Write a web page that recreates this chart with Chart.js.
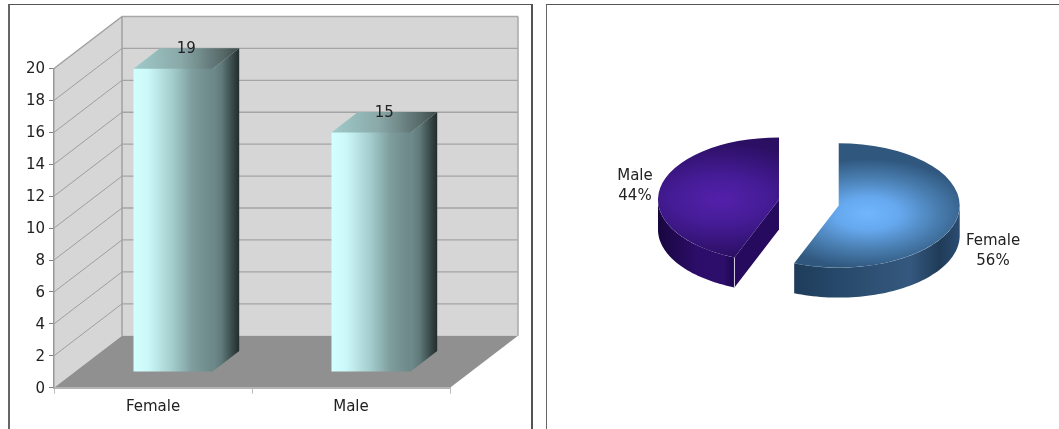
<!DOCTYPE html>
<html>
<head>
<meta charset="utf-8">
<title>Gender</title>
<script src="https://cdn.jsdelivr.net/npm/chart.js@4"></script>
<style>
  html, body { margin: 0; padding: 0; background: #fff; width: 1059px; height: 429px; overflow: hidden; }
  .panel { position: absolute; top: 4px; height: 440px; box-sizing: border-box; border-top: 1px solid #555; }
  #panel-left { left: 8px; width: 525px; border-left: 2px solid #666; border-right: 2px solid #555; }
  #panel-right { left: 546px; width: 520px; border-left: 1px solid #666; }
  canvas { position: absolute; top: 0; }
  #bar-chart { left: 0; }
  #pie-chart { left: 540px; }
</style>
</head>
<body>
<div class="panel" id="panel-left"></div>
<div class="panel" id="panel-right"></div>
<canvas id="bar-chart" width="540" height="429" style="width:540px;height:429px"></canvas>
<canvas id="pie-chart" width="519" height="429" style="width:519px;height:429px"></canvas>
<script>
// ── Data ─────────────────────────────────────────────────────────
const categories = ['Female', 'Male'];
const barValues = [19, 15];
const pieShares = [56, 44];

Chart.defaults.font.family = '"DejaVu Sans", Verdana, sans-serif';
Chart.defaults.font.size = 15;
Chart.defaults.color = '#222';
Chart.defaults.animation = false;

const FONT = Chart.defaults.font.size + 'px ' + Chart.defaults.font.family;
const linear = (ctx, x0, y0, x1, y1, stops) => {
  const g = ctx.createLinearGradient(x0, y0, x1, y1);
  stops.forEach(([p, c]) => g.addColorStop(p, c));
  return g;
};
const poly = (ctx, pts, fill) => {
  ctx.beginPath();
  pts.forEach(([x, y], i) => i ? ctx.lineTo(x, y) : ctx.moveTo(x, y));
  ctx.closePath();
  ctx.fillStyle = fill;
  ctx.fill();
};
const line = (ctx, x0, y0, x1, y1, color, w) => {
  ctx.beginPath();
  ctx.moveTo(x0, y0);
  ctx.lineTo(x1, y1);
  ctx.strokeStyle = color;
  ctx.lineWidth = w;
  ctx.stroke();
};
const text = (ctx, str, x, y, align) => {
  ctx.textAlign = align || 'center';
  ctx.textBaseline = 'middle';
  ctx.fillStyle = '#222';
  ctx.font = FONT;
  ctx.fillText(str, x, y);
};

// ── 3D bars ──────────────────────────────────────────────────────
const wall = { x: 68, y: 52 };     // depth of the box
const shift = { x: 20.1, y: 15.7 }; // how far back the bars stand
const barDepth = { x: 26.5, y: 20.5 };

const box3d = {
  id: 'box3d',
  beforeDraw(chart) {
    const { ctx, chartArea: a, scales: { y } } = chart;
    ctx.save();
    const dx = wall.x, dy = wall.y;
    poly(ctx, [[a.left, a.top], [a.left + dx, a.top - dy], [a.left + dx, a.bottom - dy], [a.left, a.bottom]], '#d6d6d6');
    poly(ctx, [[a.left + dx, a.top - dy], [a.right + dx, a.top - dy], [a.right + dx, a.bottom - dy], [a.left + dx, a.bottom - dy]], '#d6d6d6');
    poly(ctx, [[a.left, a.bottom], [a.left + dx, a.bottom - dy], [a.right + dx, a.bottom - dy], [a.right, a.bottom]], '#909090');
    y.ticks.forEach(t => {
      const py = y.getPixelForValue(t.value);
      if (t.value > 0 && t.value < 20) {
        line(ctx, a.left, py, a.left + dx, py - dy, '#8f8f8f', 0.8);
        line(ctx, a.left + dx, py - dy, a.right + dx, py - dy, '#a4a4a4', 1.3);
      }
      // tick labels sit a touch lower than the library's middle baseline
      text(ctx, t.label, a.left - 9, py + 1, 'right');
    });
    line(ctx, a.left, a.top, a.left + dx, a.top - dy, '#a0a0a0', 1.5);
    line(ctx, a.left + dx, a.top - dy, a.right + dx, a.top - dy, '#a8a8a8', 1.5);
    line(ctx, a.left + dx, a.top - dy, a.left + dx, a.bottom - dy, '#a0a0a0', 1.5);
    line(ctx, a.right + dx, a.top - dy, a.right + dx, a.bottom - dy, '#a8a8a8', 1.5);
    ctx.restore();
  },
  beforeDatasetsDraw(chart) {
    const { ctx } = chart;
    ctx.save();
    ctx.translate(shift.x, -shift.y);
    chart.getDatasetMeta(0).data.forEach(bar => {
      const l = bar.x - bar.width / 2, r = bar.x + bar.width / 2;
      const d = barDepth;
      // faces start 1px under the front so no floor shows through the seam
      poly(ctx, [[r - 1, bar.y], [r, bar.y], [r + d.x, bar.y - d.y], [r + d.x, bar.base - d.y], [r, bar.base], [r - 1, bar.base]],
        linear(ctx, r, 0, r + d.x, 0, [[0, '#6f8c8c'], [0.35, '#5f7878'], [0.75, '#384848'], [1, '#222c2c']]));
      poly(ctx, [[l, bar.y + 1], [l, bar.y], [l + d.x, bar.y - d.y], [r + d.x, bar.y - d.y], [r, bar.y], [r, bar.y + 1]],
        linear(ctx, l, 0, r + d.x, 0, [[0, '#a0caca'], [0.45, '#8aa8a8'], [0.85, '#566868'], [1, '#3c4a4a']]));
      bar.options = Object.assign({}, bar.options, {
        backgroundColor: linear(ctx, l, 0, r, 0, [[0, '#d2ffff'], [0.18, '#cdf8f9'], [0.5, '#a2cbcb'], [0.75, '#7d9c9c'], [1, '#6c8888']])
      });
    });
  },
  afterDatasetsDraw(chart) {
    const { ctx } = chart;
    ctx.restore();
    ctx.save();
    chart.getDatasetMeta(0).data.forEach((bar, i) => {
      text(ctx, barValues[i], bar.x + shift.x + barDepth.x / 2, bar.y - shift.y - barDepth.y + 1);
    });
    ctx.restore();
  }
};

new Chart(document.getElementById('bar-chart'), {
  type: 'bar',
  data: {
    labels: categories,
    datasets: [{ data: barValues, barPercentage: 0.8, categoryPercentage: 0.5, borderWidth: 0, clip: false }]
  },
  options: {
    responsive: false,
    layout: { padding: { top: 68.5, right: 90, left: 0, bottom: 0 } },
    plugins: { legend: { display: false }, tooltip: { enabled: false } },
    scales: {
      x: {
        afterFit: s => { s.height = 41.3; },
        grid: { drawOnChartArea: false, tickLength: 6, tickColor: '#bdbdbd' },
        border: { color: '#b4b4b4', width: 2 },
        ticks: { padding: 4, color: '#222' }
      },
      y: {
        min: 0,
        max: 20,
        afterFit: s => { s.width = 54; },
        grid: { drawOnChartArea: false, tickLength: 5, tickColor: '#808080' },
        border: { color: '#999', width: 1.5 },
        ticks: { stepSize: 2, padding: 4, color: 'rgba(0,0,0,0)' }
      }
    }
  },
  plugins: [box3d]
});

// ── 3D pie ───────────────────────────────────────────────────────
const tilt = 0.514;
const pieDepth = 30;
const explode = 30.4;
const TOP = [
  { dx: 29, dy: 16, r: 106, stops: [[0, '#70b7ff'], [0.3, '#66a8ee'], [0.65, '#4a7fb2'], [1, '#30587f']] },
  { dx: -59, dy: 0, r: 112, stops: [[0, '#5320aa'], [0.4, '#461c98'], [1, '#2b0f63']] }
];
const SIDE = [
  [[0, '#1f3c5a'], [0.25, '#264869'], [0.7, '#35587e'], [0.88, '#1f3b58'], [1, '#2b4d72']],
  [[0, '#18063f'], [0.5, '#2c0d68'], [0.85, '#2e0e6c'], [1, '#1b0650']]
];
const LABELS = [{ x: 453, y: 241 }, { x: 95, y: 176 }];

const pie3d = {
  id: 'pie3d',
  beforeDatasetsDraw(chart) {
    const { ctx } = chart;
    chart.getDatasetMeta(0).data.forEach((arc, i) => {
      const r = arc.outerRadius;
      const mid = (arc.startAngle + arc.endAngle) / 2;
      const ex = Math.cos(mid) * explode, ey = Math.sin(mid) * explode * tilt;
      const pt = t => [arc.x + ex + r * Math.cos(t), arc.y + ey + r * Math.sin(t) * tilt];
      const from = Math.max(arc.startAngle, 0), to = Math.min(arc.endAngle, Math.PI);
      const pts = [];
      for (let k = 0; k <= 60; k++) pts.push(pt(from + (to - from) * k / 60));
      const wallPts = pts.concat(pts.slice().reverse().map(([x, y]) => [x, y + pieDepth]));
      poly(ctx, wallPts, linear(ctx, Math.min(pts[0][0], pts[60][0]), 0, Math.max(pts[0][0], pts[60][0]), 0, SIDE[i]));
      // cut face that looks toward the viewer
      const s = arc.startAngle;
      if (Math.cos(s) < 0 && Math.sin(s) > 0) {
        const apex = [arc.x + ex, arc.y + ey], edge = pt(s);
        poly(ctx, [apex, edge, [edge[0], edge[1] + pieDepth], [apex[0], apex[1] + pieDepth]], '#250a5e');
        line(ctx, edge[0], edge[1], edge[0], edge[1] + pieDepth, '#d8d2e6', 1);
      }
      // top of the slice: the library's arc, moved out and squashed
      ctx.save();
      ctx.translate(ex, ey + arc.y);
      ctx.scale(1, tilt);
      ctx.translate(0, -arc.y);
      const t = TOP[i];
      const g = ctx.createRadialGradient(arc.x + t.dx, arc.y + t.dy, 0, arc.x + t.dx, arc.y + t.dy, t.r);
      t.stops.forEach(([p, c]) => g.addColorStop(p, c));
      arc.options = Object.assign({}, arc.options, { backgroundColor: g });
      arc.draw(ctx);
      ctx.restore();
    });
    LABELS.forEach((p, i) => {
      text(ctx, categories[i], p.x, p.y);
      text(ctx, pieShares[i] + '%', p.x, p.y + 20);
    });
    return false;
  }
};

new Chart(document.getElementById('pie-chart'), {
  type: 'pie',
  data: {
    labels: categories,
    datasets: [{ data: pieShares, borderWidth: 0, radius: 121, clip: false, backgroundColor: ['#6fb4fb', '#4f1ea0'] }]
  },
  options: {
    responsive: false,
    radius: 121,
    layout: { padding: { left: 18.7, right: 0, top: 0, bottom: 24 } },
    plugins: { legend: { display: false }, tooltip: { enabled: false } }
  },
  plugins: [pie3d]
});
</script>
</body>
</html>
